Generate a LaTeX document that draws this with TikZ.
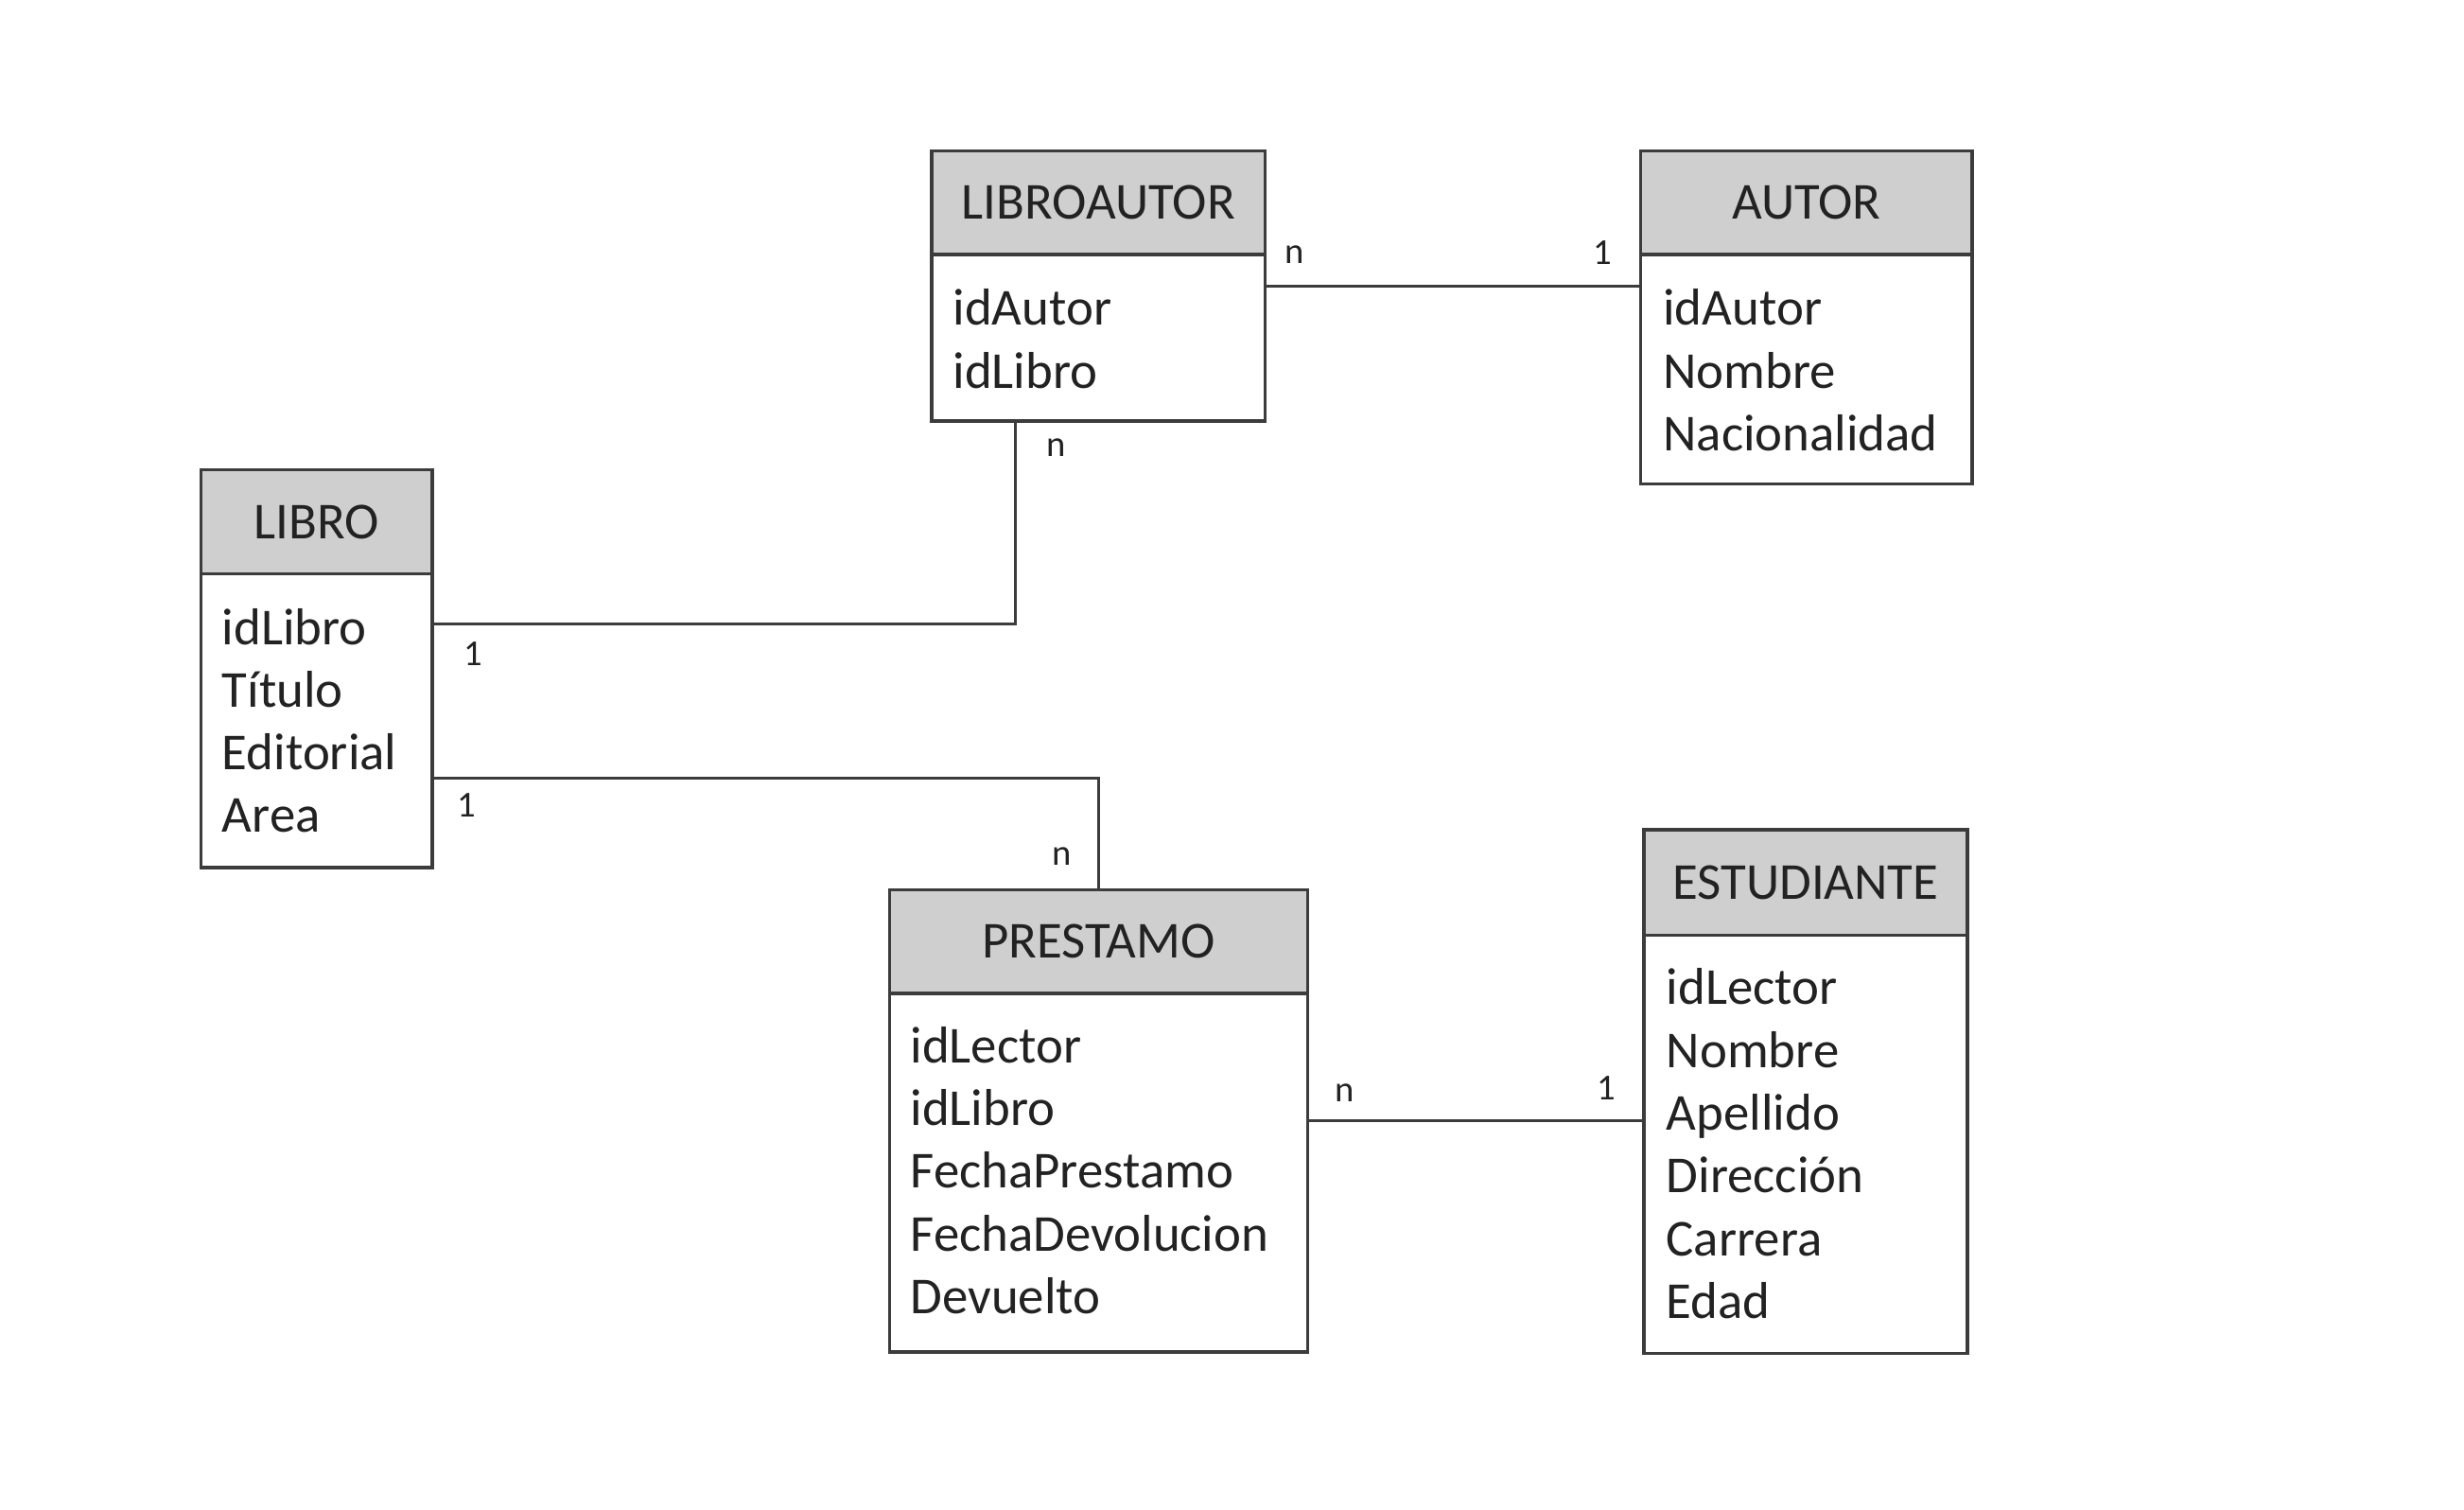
\documentclass[tikz,border=0pt]{standalone}
\usepackage{fontspec}
\setmainfont{Carlito}
\definecolor{edge}{HTML}{3C3C3C}
\definecolor{hdrfill}{HTML}{CFCFCF}
\definecolor{ink}{HTML}{222222}
\begin{document}
\begin{tikzpicture}[x=0.016614cm,y=-0.016614cm,
  ehead/.style 2 args={draw=edge,line width=1pt,fill=hdrfill,anchor=north west,
    inner sep=0pt,outer sep=0pt,minimum width={#1*0.016614cm},minimum height={#2*0.016614cm},
    font=\fontsize{15.6}{19}\selectfont,text=ink},
  ebody/.style 2 args={draw=edge,line width=1pt,fill=white,anchor=north west,
    inner sep=0pt,outer sep=0pt,minimum width={#1*0.016614cm},minimum height={#2*0.016614cm}},
  attr/.style={anchor=base west,inner sep=0pt,font=\fontsize{15.6}{19}\selectfont,text=ink},
  card/.style={font=\fontsize{11}{13}\selectfont,text=ink,inner sep=0pt},
  conn/.style={draw=edge,line width=0.9pt}]
\useasboundingbox (0,0) rectangle (1568,960.1);

% LIBROAUTOR
\node[ebody={212}{106}] (laB) at (593,162) {};
\node[ehead={212}{66}] (laH) at (593,96) {LIBROAUTOR};
\foreach \t [count=\i] in {idAutor,idLibro}
  \node[attr] (la-\i) at (606,{162+45+40*(\i-1)}) {\t};

% AUTOR
\node[ebody={211}{146}] (auB) at (1044,162) {};
\node[ehead={211}{66}] (auH) at (1044,96) {AUTOR};
\foreach \t [count=\i] in {idAutor,Nombre,Nacionalidad}
  \node[attr] (au-\i) at (1058,{162+45+40*(\i-1)}) {\t};

% LIBRO
\node[ebody={147}{187}] (liB) at (128,365) {};
\node[ehead={147}{66}] (liH) at (128,299) {LIBRO};
\foreach \t [count=\i] in {idLibro,Título,Editorial,Area}
  \node[attr] (li-\i) at (141,{365+45+39.7*(\i-1)}) {\t};

% PRESTAMO
\node[ebody={266}{228}] (prB) at (566,632) {};
\node[ehead={266}{66}] (prH) at (566,566) {PRESTAMO};
\foreach \t [count=\i] in {idLector,idLibro,FechaPrestamo,FechaDevolucion,Devuelto}
  \node[attr] (pr-\i) at (579,{632+44+40*(\i-1)}) {\t};

% ESTUDIANTE
\node[ebody={206}{266}] (esB) at (1046,595) {};
\node[ehead={206}{67}] (esH) at (1046,528) {ESTUDIANTE};
\foreach \t [count=\i] in {idLector,Nombre,Apellido,Dirección,Carrera,Edad}
  \node[attr] (es-\i) at (1060,{595+44+40*(\i-1)}) {\t};

% connector levels
\coordinate (yA) at (0,182);
\coordinate (xB) at (646,0);
\coordinate (yB) at (0,397);
\coordinate (yC) at (0,495);
\coordinate (yD) at (0,713);

\draw[conn] (laB.east |- yA) -- (auB.west |- yA);
\draw[conn] (laB.south -| xB) |- (liB.east |- yB);
\draw[conn] (liB.east |- yC) -| (prH.north);
\draw[conn] (prB.east |- yD) -- (esB.west |- yD);

% cardinalities
\node[card] (c1) at (824,162) {n};
\node[card] (c2) at (1020,161) {1};
\node[card] (c3) at (672,285) {n};
\node[card] (c4) at (301,416) {1};
\node[card] (c5) at (297,512) {1};
\node[card] (c6) at (676,545) {n};
\node[card] (c7) at (856,695) {n};
\node[card] (c8) at (1022,692) {1};
\end{tikzpicture}
\end{document}
